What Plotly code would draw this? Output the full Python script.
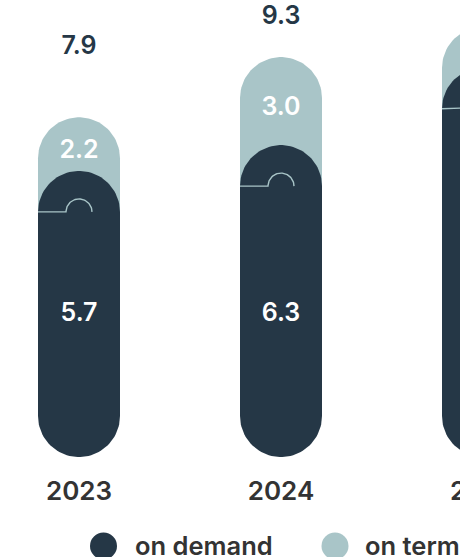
import numpy as np
import plotly.graph_objects as go

# ---- data ----
years = ["2023", "2024", "2025"]
on_demand = [5.7, 6.3, 8.1]
on_term = [2.2, 3.0, 1.9]
totals = [7.9, 9.3, 10.0]

DARK = "#253746"
LIGHT = "#a9c5c8"
GREY = "#333333"
FONT = "Inter"

# ---- canvas geometry (pixels) ----
W, H = 460, 557
X0_PX, X_STEP_PX = 79, 202      # centre of first bar, spacing between bars
Y0_PX, Y_UNIT_PX = 457, 43      # baseline, pixels per unit
BAR_HALF_PX = 41                # half bar width == cap radius
KNOB_R_PX = 13                  # small arc drawn on the segment seam

x_range = [-X0_PX / X_STEP_PX, (W - X0_PX) / X_STEP_PX]
y_range = [-(H - Y0_PX) / Y_UNIT_PX, Y0_PX / Y_UNIT_PX]
hw = BAR_HALF_PX / X_STEP_PX
ry = BAR_HALF_PX / Y_UNIT_PX


def arc(xc, yc, rx, ryy, a0, a1, n=48):
    t = np.linspace(a0, a1, n)
    return list(xc + rx * np.cos(t)), list(yc + ryy * np.sin(t))


def pill(xc, y_bot, y_top, round_bottom):
    """Closed outline of a bar with a round top (and optionally bottom)."""
    xs, ys = [], []
    if round_bottom:
        ax, ay = arc(xc, y_bot + ry, hw, ry, np.pi, 2 * np.pi)
    else:
        ax, ay = [xc - hw, xc + hw], [y_bot, y_bot]
    xs += ax
    ys += ay
    tx, ty = arc(xc, y_top - ry, hw, ry, 0, np.pi)
    xs += tx
    ys += ty
    xs.append(xs[0])
    ys.append(ys[0])
    return xs, ys


fig = go.Figure()

for i, (d, t, tot) in enumerate(zip(on_demand, on_term, totals)):
    xc = i
    # light segment: from the on-demand level up to the total
    lx, ly = pill(xc, d, tot, round_bottom=False)
    fig.add_trace(go.Scatter(x=lx, y=ly, fill="toself", fillcolor=LIGHT,
                             mode="lines", line=dict(width=0),
                             hoverinfo="skip", showlegend=False))
    # dark segment: rounded base, rounded cap rising above its value
    dx, dy = pill(xc, 0, d + ry, round_bottom=True)
    fig.add_trace(go.Scatter(x=dx, y=dy, fill="toself", fillcolor=DARK,
                             mode="lines", line=dict(width=0),
                             hoverinfo="skip", showlegend=False))
    # seam line with a small arc at the bar centre
    kx_r = KNOB_R_PX / X_STEP_PX
    ky_r = KNOB_R_PX / Y_UNIT_PX
    sx, sy = arc(xc, d, kx_r, ky_r, np.pi, 0)
    fig.add_trace(go.Scatter(x=[xc - hw] + sx, y=[d] + sy, mode="lines",
                             line=dict(color=LIGHT, width=1.4),
                             hoverinfo="skip", showlegend=False))

xs = list(range(len(years)))
TEXT = dict(family=FONT, size=25, weight=600)

# value inside the dark segment
DARK_LABEL_Y = 3.30
fig.add_trace(go.Scatter(x=xs, y=[DARK_LABEL_Y] * len(xs), mode="text",
                         text=[f"{v:.1f}" for v in on_demand],
                         textfont=dict(TEXT, color="white"),
                         hoverinfo="skip", showlegend=False))

# value inside the light segment (a little above its middle)
LIGHT_SHIFT = 13 / Y_UNIT_PX
fig.add_trace(go.Scatter(x=xs,
                         y=[(d + tot) / 2 + LIGHT_SHIFT for d, tot in zip(on_demand, totals)],
                         mode="text", text=[f"{v:.1f}" for v in on_term],
                         textfont=dict(TEXT, color="white"),
                         hoverinfo="skip", showlegend=False))

# totals, halfway between bar top and the headroom line
HEADROOM = 11.12
fig.add_trace(go.Scatter(x=xs, y=[(tot + HEADROOM) / 2 for tot in totals],
                         mode="text", text=[f"{v:.1f}" for v in totals],
                         textfont=dict(TEXT, color=DARK),
                         hoverinfo="skip", showlegend=False))

# year labels under the bars
YEAR_Y = -(493 - Y0_PX) / Y_UNIT_PX
fig.add_trace(go.Scatter(x=xs, y=[YEAR_Y] * len(xs), mode="text", text=years,
                         textfont=dict(TEXT, size=26, color=GREY),
                         hoverinfo="skip", showlegend=False))

# ---- legend (drawn in paper space) ----
def px_x(p):
    return p / W


def px_y(p):
    return 1 - p / H


LEG_Y = 546
LEG_R = 13.5
for cx, tx, label, col in [(103.5, 133, "on demand", DARK), (335, 363, "on term", LIGHT)]:
    fig.add_shape(type="circle", xref="paper", yref="paper",
                  x0=px_x(cx - LEG_R), x1=px_x(cx + LEG_R),
                  y0=px_y(LEG_Y + LEG_R), y1=px_y(LEG_Y - LEG_R),
                  fillcolor=col, line=dict(width=0))
    fig.add_annotation(xref="paper", yref="paper", x=px_x(tx), y=px_y(LEG_Y - 1),
                       text=label, showarrow=False, xanchor="left", yanchor="middle",
                       font=dict(TEXT, size=25.5, color=GREY))

fig.update_layout(
    width=W, height=H,
    margin=dict(l=0, r=0, t=0, b=0),
    paper_bgcolor="white", plot_bgcolor="white",
    xaxis=dict(range=x_range, visible=False, fixedrange=True),
    yaxis=dict(range=y_range, visible=False, fixedrange=True),
    showlegend=False,
)

fig.write_html("out.html")
